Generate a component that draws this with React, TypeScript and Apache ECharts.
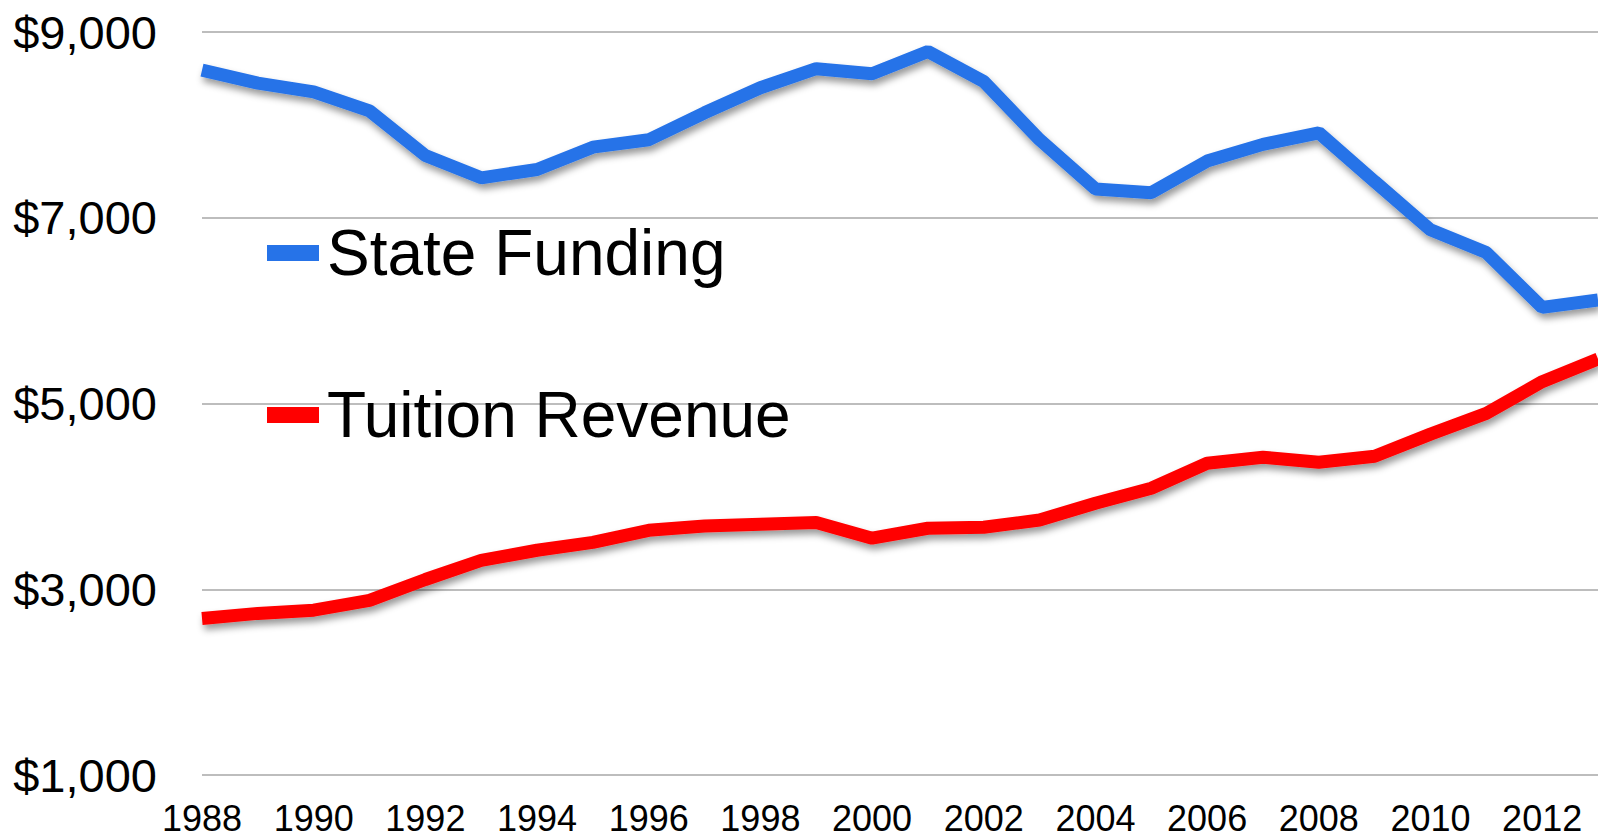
import React, { useEffect, useRef } from "react";
import * as echarts from "echarts";

const years = [
  "1988", "1989", "1990", "1991", "1992", "1993", "1994", "1995", "1996",
  "1997", "1998", "1999", "2000", "2001", "2002", "2003", "2004", "2005",
  "2006", "2007", "2008", "2009", "2010", "2011", "2012", "2013",
];

const stateFunding = [
  8590, 8450, 8355, 8150, 7670, 7430, 7520, 7760, 7840, 8130, 8400, 8605, 8550,
  8790, 8466, 7840, 7310, 7270, 7610, 7790, 7915, 7390, 6870, 6625, 6035, 6115,
];

const tuitionRevenue = [
  2686, 2740, 2775, 2880, 3105, 3310, 3420, 3505, 3635, 3680, 3700, 3720, 3550,
  3657, 3667, 3745, 3926, 4088, 4357, 4422, 4368, 4432, 4670, 4893, 5235, 5480,
];

const yMin = 1000;
const yMax = 9000;
const yInterval = 2000;

const FONT = '"Liberation Sans", Arial, Helvetica, sans-serif';
const BLUE = "#2673E8";
const RED = "#FF0000";

export default function App() {
  const ref = useRef<HTMLDivElement>(null);

  useEffect(() => {
    if (!ref.current) return;
    const chart = echarts.init(ref.current, undefined, { renderer: "svg" });
    const shadow = {
      shadowColor: "rgba(0,0,0,0.4)",
      shadowBlur: 7,
      shadowOffsetX: 2,
      shadowOffsetY: 5,
    };
    const legendBase = {
      orient: "vertical",
      left: 267,
      padding: 0,
      icon: "rect",
      itemWidth: 52,
      itemHeight: 16,
      itemStyle: { shadowBlur: 0, shadowColor: "transparent", borderWidth: 0 },
      textStyle: { fontSize: 64, color: "#000", fontFamily: FONT, padding: [0, 0, 0, 3] },
      selectedMode: false,
    };
    chart.setOption({
      animation: false,
      backgroundColor: "#fff",
      textStyle: { fontFamily: FONT },
      legend: [
        { ...legendBase, top: 221, data: ["State Funding"] },
        { ...legendBase, top: 383, data: ["Tuition Revenue"] },
      ],
      grid: { left: 202, right: 0, top: 32, bottom: 62, containLabel: false },
      xAxis: {
        type: "category",
        data: years,
        boundaryGap: false,
        axisLine: { show: false },
        axisTick: { show: false },
        axisLabel: {
          interval: 1,
          fontSize: 36,
          color: "#000",
          fontFamily: FONT,
          margin: 25,
        },
        splitLine: { show: false },
      },
      yAxis: {
        type: "value",
        min: yMin,
        max: yMax,
        interval: yInterval,
        axisLine: { show: false },
        axisTick: { show: false },
        axisLabel: {
          fontSize: 47,
          color: "#000",
          fontFamily: FONT,
          margin: 45,
          formatter: (v: number) => "$" + v.toLocaleString("en-US"),
        },
        splitLine: { lineStyle: { color: "#BDBDBD", width: 2 } },
      },
      series: [
        {
          name: "State Funding",
          type: "line",
          data: stateFunding,
          showSymbol: false,
          color: BLUE,
          lineStyle: { color: BLUE, width: 13, ...shadow },
        },
        {
          name: "Tuition Revenue",
          type: "line",
          data: tuitionRevenue,
          showSymbol: false,
          color: RED,
          lineStyle: { color: RED, width: 13, ...shadow },
        },
      ],
    });
    return () => chart.dispose();
  }, []);

  return (
    <div
      ref={ref}
      style={{ position: "absolute", left: 0, top: 0, width: 1598, height: 837 }}
    />
  );
}
